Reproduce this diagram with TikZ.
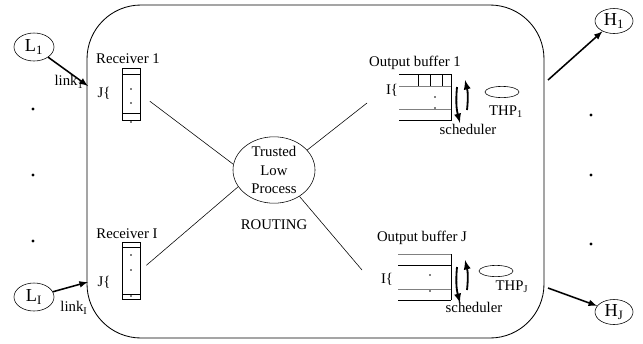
\documentclass[tikz,border=0pt]{standalone}
\usepackage{fontspec}
\setmainfont{Liberation Serif}
\usetikzlibrary{shapes.geometric}
\tikzset{
    host/.style={ellipse, draw, inner sep=0, minimum width=1cm, minimum height=0.7cm, font=\fontsize{13}{15}\selectfont},
    txt/.style={inner sep=0, font=\fontsize{10.5}{12}\selectfont},
    recv/.style={rectangle, draw, inner sep=0, minimum width=0.45cm},
    proc/.style={ellipse, draw, inner sep=0, minimum width=2.05cm, minimum height=1.5cm, align=center, font=\fontsize{10.5}{13}\selectfont},
    thp/.style={ellipse, draw, inner sep=0, minimum width=0.85cm, minimum height=0.28cm},
    dotc/.style={circle, fill, inner sep=0, minimum size=2.2pt},
    tinydot/.style={circle, fill, inner sep=0, minimum size=1.2pt},
    link/.style={->, >=latex, line width=1.1pt},
    sched/.style={->, >=latex, line width=1.3pt},
    slot/.style={gray}
}

\begin{document}
\begin{tikzpicture}[x=0.025cm, y=-0.025cm]
\useasboundingbox (0,0) rectangle (643,343);
% the system
\draw[rounded corners=1.35cm, line width=0.6pt] (87,5) rectangle (544,338);
\coordinate (in1) at (88,86);
\coordinate (inI) at (88,282);
\coordinate (out1) at (548,80);
\coordinate (outJ) at (548,288);

% hosts and links
\node[host] at (34,47) (L1) {L\textsubscript{1}};
\node[host] at (34,297) (LI) {L\textsubscript{I}};
\node[host, minimum width=0.95cm, minimum height=0.625cm] at (614,21) (H1) {H\textsubscript{1}};
\node[host, minimum width=0.95cm, minimum height=0.625cm] at (614,312) (HJ) {H\textsubscript{J}};
\draw[link] (L1) -- (in1);
\draw[link] (LI) -- (inI);
\draw[link] (out1) -- (H1);
\draw[link] (outJ) -- (HJ);
\node[txt] at (69,82) (lk1) {link\textsubscript{1}};
\node[txt] at (74,308) (lkI) {link\textsubscript{I}};
\foreach \y in {109,175,241} \node[dotc] at (33,\y) (ld\y) {};
\foreach \y in {115,175,244} \node[dotc] at (591,\y) (rd\y) {};

% receivers
\node[txt] at (128,59) (rc1) {Receiver 1};
\node[recv, minimum height=1.3cm] at (131,94) (r1) {};
\draw (122,74) -- (140,74);
\draw (122,113) -- (140,113);
\foreach \y in {89,103,122} \node[tinydot] at (131,\y) (r1d\y) {};
\node[txt] at (104,93) (j1) {J\{};

\node[txt] at (127,234) (rcI) {Receiver I};
\node[recv, minimum height=1.425cm] at (131,270.5) (rI) {};
\draw (122,247) -- (140,247);
\draw (122,294) -- (140,294);
\foreach \y in {255,270,296} \node[tinydot] at (131,\y) (rId\y) {};
\node[txt] at (104,282) (jI) {J\{};

% routing process
\node[proc] at (274,170) (tlp) {Trusted\\Low\\Process};
\node[txt] at (274,225) (rt) {ROUTING};
\coordinate (b1in) at (367,103);
\coordinate (bJin) at (362,270);
\draw[shorten <=0.3cm] (r1.east) -- (tlp.172);
\draw[shorten <=0.2cm] (rI.east) -- (tlp.205);
\draw (tlp.31) -- (b1in);
\draw (tlp.314) -- (bJin);

% output buffer 1
\node[txt] at (415,63) (ob1) {Output buffer 1};
\draw (399,74) -- (451,74) -- (451,120) -- (399,120);
\draw[slot] (399,86) -- (451,86);
\draw[slot] (399,109) -- (451,109);
\foreach \x in {418,430,442} \draw (\x,74) -- (\x,86);
\foreach \y in {97,108} \node[tinydot] at (435,\y) (b1d\y) {};
\node[txt] at (392,90) (i1) {I\{};
\draw[sched] (457,87) to[bend right=10] (460,123);
\draw[sched] (467,110) to[bend right=10] (465,80);
\node[thp] at (502,92) (thp1e) {};
\node[txt] at (506,112) (thp1) {THP\textsubscript{1}};
\node[txt] at (468,129) (sc1) {scheduler};

% output buffer J
\node[txt] at (422,238) (obJ) {Output buffer J};
\draw[slot] (398,254) -- (451,254);
\draw (398,265) -- (451,265);
\draw[slot] (398,289) -- (451,289);
\draw (398,300) -- (451,300);
\draw (451,254) -- (451,300);
\foreach \y in {275,291} \node[tinydot] at (430,\y) (bJd\y) {};
\node[txt] at (387,279) (iJ) {I\{};
\draw[sched] (457,267) to[bend right=10] (460,303);
\draw[sched] (467,290) to[bend right=10] (465,260);
\node[thp] at (496,271) (thpJe) {};
\node[txt] at (512,287) (thpJ) {THP\textsubscript{J}};
\node[txt] at (474,307) (scJ) {scheduler};
\end{tikzpicture}
\end{document}
